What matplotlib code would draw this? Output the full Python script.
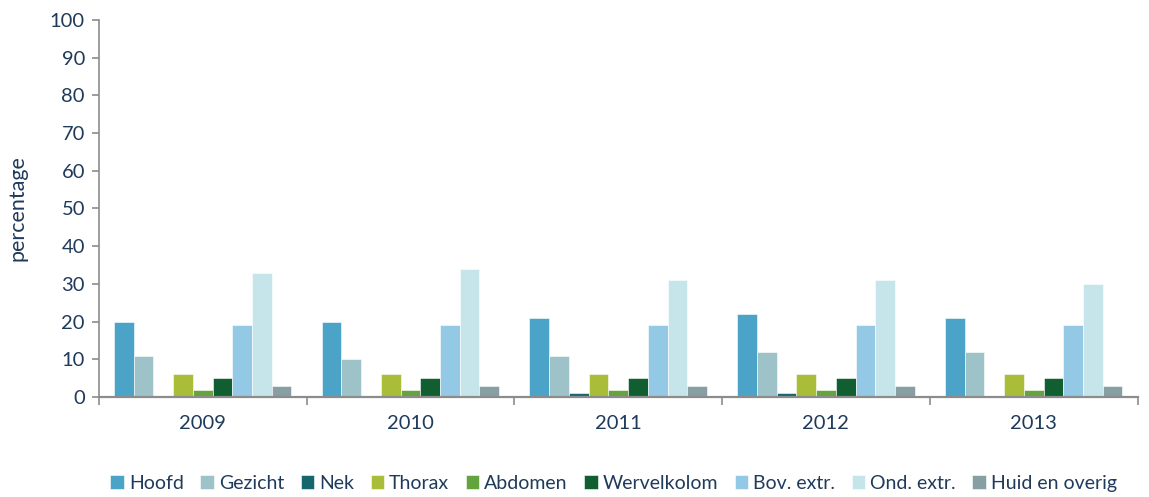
import numpy as np
import matplotlib.pyplot as plt
import matplotlib.ticker as mticker

plt.rcParams['font.family'] = ['Lato', 'DejaVu Sans']

years = ['2009', '2010', '2011', '2012', '2013']
categories = ['Hoofd', 'Gezicht', 'Nek', 'Thorax', 'Abdomen', 'Wervelkolom',
              'Bov. extr.', 'Ond. extr.', 'Huid en overig']
hoofd = [20, 20, 21, 22, 21]
gezicht = [11, 10, 11, 12, 12]
nek = [0, 0, 1, 1, 0]
thorax = [6, 6, 6, 6, 6]
abdomen = [2, 2, 2, 2, 2]
wervelkolom = [5, 5, 5, 5, 5]
bov_extr = [19, 19, 19, 19, 19]
ond_extr = [33, 34, 31, 31, 30]
huid = [3, 3, 3, 3, 3]
series = [hoofd, gezicht, nek, thorax, abdomen, wervelkolom, bov_extr, ond_extr, huid]
colors = ['#4BA3C7', '#9DC3C9', '#16666E', '#A9BD38', '#65A33F', '#115E31',
          '#93C9E5', '#C5E5EA', '#879FA3']

text_col = '#1F3A5A'
axis_col = '#8C8C8C'

fig = plt.figure(figsize=(11.49, 4.97), dpi=100)
ax = fig.add_axes([0.086, 0.201, 0.904, 0.759])

x = np.arange(len(years))
w = 0.095
n = len(series)
for i, (vals, c, name) in enumerate(zip(series, colors, categories)):
    ax.bar(x + (i - (n - 1) / 2) * w, vals, w, color=c, label=name,
           edgecolor='white', linewidth=0.4)

ax.set_xlim(-0.5, len(years) - 0.5)
ax.set_ylim(0, 100)
ax.set_yticks(range(0, 101, 10))
ax.set_xticks(x)
ax.set_xticklabels(years)
ax.xaxis.set_minor_locator(mticker.FixedLocator(np.arange(-0.5, len(years), 1)))
ax.tick_params(axis='x', which='major', length=0, pad=13, labelsize=14.5, labelcolor=text_col)
ax.tick_params(axis='x', which='minor', length=6, color=axis_col, width=1.2)
ax.tick_params(axis='y', length=5, color=axis_col, width=1.2, labelsize=14.5,
               labelcolor=text_col, pad=5)

for s in ['top', 'right']:
    ax.spines[s].set_visible(False)
ax.spines['left'].set_color(axis_col)
ax.spines['bottom'].set_color(axis_col)
ax.spines['left'].set_linewidth(1.2)
ax.spines['bottom'].set_linewidth(1.6)

ax.set_ylabel('percentage', fontsize=15.5, color=text_col, labelpad=16)

leg = fig.legend(loc='lower center', bbox_to_anchor=(0.534, -0.025), ncol=9, frameon=False,
                 fontsize=14, handlelength=0.7, handleheight=0.7, handletextpad=0.25,
                 columnspacing=0.85)
for t in leg.get_texts():
    t.set_color(text_col)

fig.savefig('out.png', dpi=100)
